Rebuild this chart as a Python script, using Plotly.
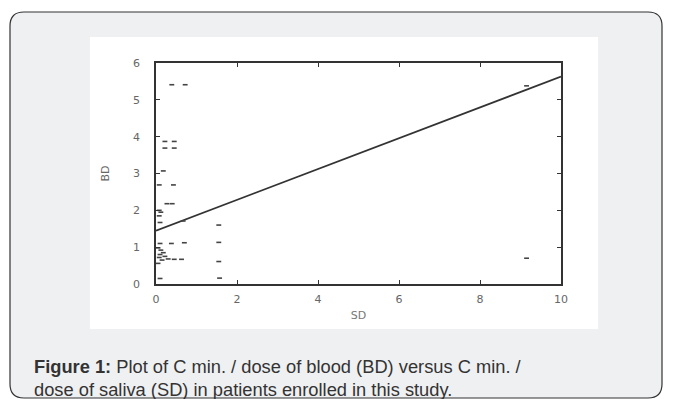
import plotly.graph_objects as go

# Data (SD on x, BD on y)
sd = [0.39, 0.72, 0.22, 0.45, 0.22, 0.45, 0.18, 0.08, 0.43, 0.27, 0.40,
      0.08, 0.12, 0.08, 0.10, 0.67, 1.55, 1.55, 1.55, 1.57, 0.10, 0.38, 0.70,
      0.05, 0.12, 0.18, 0.10, 0.22, 0.08, 0.30, 0.45, 0.63, 0.15, 0.05, 0.10,
      9.15, 9.15]
bd = [5.41, 5.41, 3.87, 3.87, 3.69, 3.69, 3.07, 2.69, 2.69, 2.18, 2.18,
      2.00, 1.95, 1.85, 1.67, 1.71, 1.60, 1.13, 0.61, 0.16, 1.10, 1.10, 1.12,
      0.98, 0.92, 0.85, 0.80, 0.75, 0.72, 0.68, 0.67, 0.67, 0.65, 0.56, 0.15,
      5.38, 0.70]
fit_sd = [0, 10]
fit_bd = [1.45, 5.63]
x_ticks = [0, 2, 4, 6, 8, 10]
y_ticks = [0, 1, 2, 3, 4, 5, 6]

W, H = 673, 399
L, R, T, B = 156, 561, 63, 284


def px(X):
    return (X - L) / (R - L)


def py(Y):
    return (B - Y) / (B - T)


def rounded_path(x0, y0, x1, y1, r):
    pts = [
        ("M", [(x0 + r, y0)]),
        ("L", [(x1 - r, y0)]),
        ("Q", [(x1, y0), (x1, y0 + r)]),
        ("L", [(x1, y1 - r)]),
        ("Q", [(x1, y1), (x1 - r, y1)]),
        ("L", [(x0 + r, y1)]),
        ("Q", [(x0, y1), (x0, y1 - r)]),
        ("L", [(x0, y0 + r)]),
        ("Q", [(x0, y0), (x0 + r, y0)]),
    ]
    s = ""
    for cmd, ps in pts:
        s += cmd + " " + " ".join(f"{px(a):.5f},{py(b):.5f}" for a, b in ps) + " "
    return s + "Z"


fig = go.Figure()
fig.add_trace(go.Scatter(x=fit_sd, y=fit_bd, mode="lines",
                         line=dict(color="#333333", width=1.7),
                         showlegend=False, hoverinfo="skip"))
fig.add_trace(go.Scatter(x=sd, y=bd, mode="markers",
                         marker=dict(symbol="line-ew", size=3.5,
                                     line=dict(color="#444444", width=1.6)),
                         showlegend=False))

shapes = [
    dict(type="path", xref="paper", yref="paper",
         path=rounded_path(10, 12, 662, 398, 14),
         fillcolor="#eff0f2", line=dict(color="#333333", width=1.2),
         layer="below"),
    dict(type="rect", xref="paper", yref="paper",
         x0=px(90), x1=px(598), y0=py(329), y1=py(37),
         fillcolor="white", line=dict(width=0), layer="below"),
]

cap_font = dict(family="Liberation Sans", size=18.3, color="#333333")
annotations = [
    dict(xref="paper", yref="paper", x=px(32), y=py(366),
         xanchor="left", yanchor="middle", showarrow=False, align="left",
         text="<b>Figure 1:</b> Plot of C min. / dose of blood (BD) versus C min. /",
         font=cap_font),
    dict(xref="paper", yref="paper", x=px(32), y=py(389),
         xanchor="left", yanchor="middle", showarrow=False, align="left",
         text="dose of saliva (SD) in patients enrolled in this study.",
         font=cap_font),
]

tick_font = dict(family="DejaVu Sans", size=11, color="#666666")
axis_common = dict(showgrid=False, zeroline=False, showline=True,
                   linecolor="#333333", linewidth=1.5, mirror="ticks",
                   ticks="inside", ticklen=4, tickwidth=1.2, tickcolor="#333333",
                   tickfont=tick_font)

fig.update_layout(
    width=W, height=H,
    margin=dict(l=L, r=W - R, t=T, b=H - B),
    paper_bgcolor="white", plot_bgcolor="rgba(0,0,0,0)",
    shapes=shapes, annotations=annotations,
    xaxis=dict(range=[0, 10], tickvals=x_ticks,
               title=dict(text="SD", font=dict(family="DejaVu Sans", size=11, color="#777777"),
                          standoff=6),
               ticklabelstandoff=4, **axis_common),
    yaxis=dict(range=[0, 6], tickvals=y_ticks,
               title=dict(text="BD", font=dict(family="DejaVu Sans", size=11, color="#666666"),
                          standoff=21),
               ticklabelstandoff=12, **axis_common),
)

fig.write_html("out.html",
               config={"displayModeBar": False},
               post_script="document.body.style.margin='0';document.body.style.padding='0';")
